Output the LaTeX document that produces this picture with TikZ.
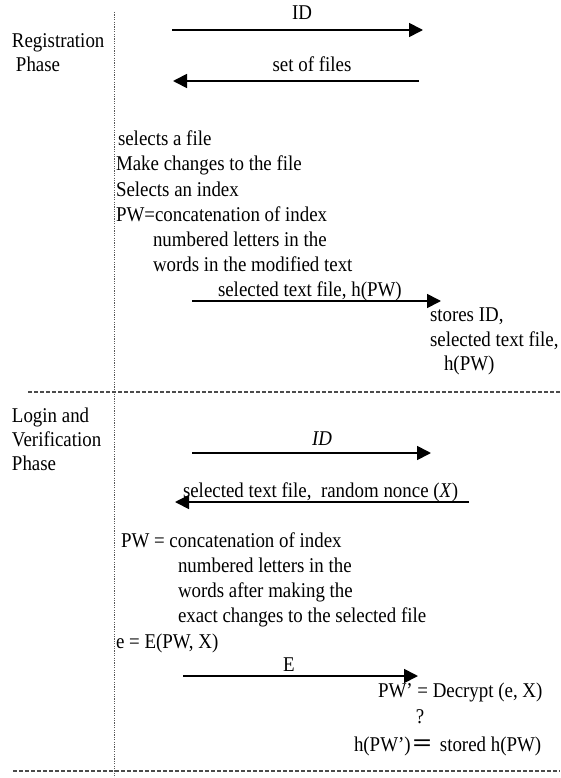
\documentclass[tikz,border=0pt]{standalone}
\usepackage{fontspec}
\setmainfont{Liberation Serif}[FakeStretch=0.9]
\usetikzlibrary{arrows.meta}

\tikzset{
  txt/.style={inner sep=0pt, outer sep=0pt, anchor=base west, font=\fontsize{21}{25}\selectfont},
  msg/.style={line width=1.7pt, -{Triangle[length=14pt,width=14pt]}},
  lifeline/.style={line width=0.9pt, gray!70!black, dash pattern=on 1.2pt off 1.2pt},
  separator/.style={line width=1.8pt, gray!60!black, dash pattern=on 4pt off 2pt},
}

\begin{document}
\begin{tikzpicture}[x=1pt, y=-1pt]
\useasboundingbox (0,0) rectangle (560,778);

% phase separators and the dotted divider
\coordinate (vtop) at (114,12);
\coordinate (vbot) at (114,778);
\draw[lifeline] (vtop) -- (vbot);
\coordinate (s1a) at (28,392);
\coordinate (s1b) at (560,392);
\draw[separator] (s1a) -- (s1b);
\coordinate (s2a) at (13,771);
\coordinate (s2b) at (560,771);
\draw[separator] (s2a) -- (s2b);

% ---------------- Registration phase ----------------
\node[txt] (reg1) at (12,48) {Registration};
\node[txt] (reg2) at (16,72) {Phase};

\coordinate (r1s) at (172,30);
\coordinate (r1e) at (423,30);
\draw[msg] (r1s) -- (r1e);
\node[txt, anchor=base] (r1l) at (302,20) {ID};

\coordinate (r2s) at (419,81);
\coordinate (r2e) at (173,81);
\draw[msg] (r2s) -- (r2e);
\node[txt, anchor=base] (r2l) at (312,72) {set of files};

\node[txt] (ra) at (118,146) {selects a file};
\node[txt] (rb) at (116,171) {Make changes to the file};
\node[txt] (rc) at (116,196) {Selects an index};
\node[txt] (rd) at (116,221) {PW=concatenation of index};
\node[txt] (re) at (153,246) {numbered letters in the};
\node[txt] (rf) at (153,271) {words in the modified text};

\coordinate (r3s) at (192,301);
\coordinate (r3e) at (441,301);
\draw[msg] (r3s) -- (r3e);
\node[txt] (r3l) at (218,296) {selected text file, h(PW)};

\node[txt] (st1) at (430,321) {stores ID,};
\node[txt] (st2) at (430,346) {selected text file,};
\node[txt] (st3) at (444,370) {h(PW)};

% ---------------- Login and verification phase ----------------
\node[txt] (log1) at (12,422) {Login and};
\node[txt] (log2) at (12,446) {Verification};
\node[txt] (log3) at (12,470) {Phase};

\coordinate (l1s) at (192,453);
\coordinate (l1e) at (431,453);
\draw[msg] (l1s) -- (l1e);
\node[txt, anchor=base] (l1l) at (322,445) {\itshape ID};

\coordinate (l2s) at (469,502);
\coordinate (l2e) at (175,502);
\draw[msg] (l2s) -- (l2e);
\node[txt] (l2l) at (183,497) {selected text file,\ \ random nonce (\textit{X})};

\node[txt] (la) at (121,547) {PW = concatenation of index};
\node[txt] (lb) at (178,572) {numbered letters in the};
\node[txt] (lc) at (178,597) {words after making the};
\node[txt] (ld) at (178,622) {exact changes to the selected file};
\node[txt] (le) at (116,648) {e = E(PW, X)};

\coordinate (l3s) at (183,676);
\coordinate (l3e) at (418,676);
\draw[msg] (l3s) -- (l3e);
\node[txt, anchor=base] (l3l) at (289,671) {E};

\node[txt] (va) at (378,697) {PW’ = Decrypt (e, X)};
\node[txt, anchor=base] (vq) at (420,723) {?};
\node[txt] (vb) at (354,751) {h(PW’)\hspace*{2pt}\scalebox{1.5}[1]{\fontsize{25}{25}\selectfont\bfseries =}\hspace*{8pt}stored h(PW)};

\end{tikzpicture}
\end{document}
